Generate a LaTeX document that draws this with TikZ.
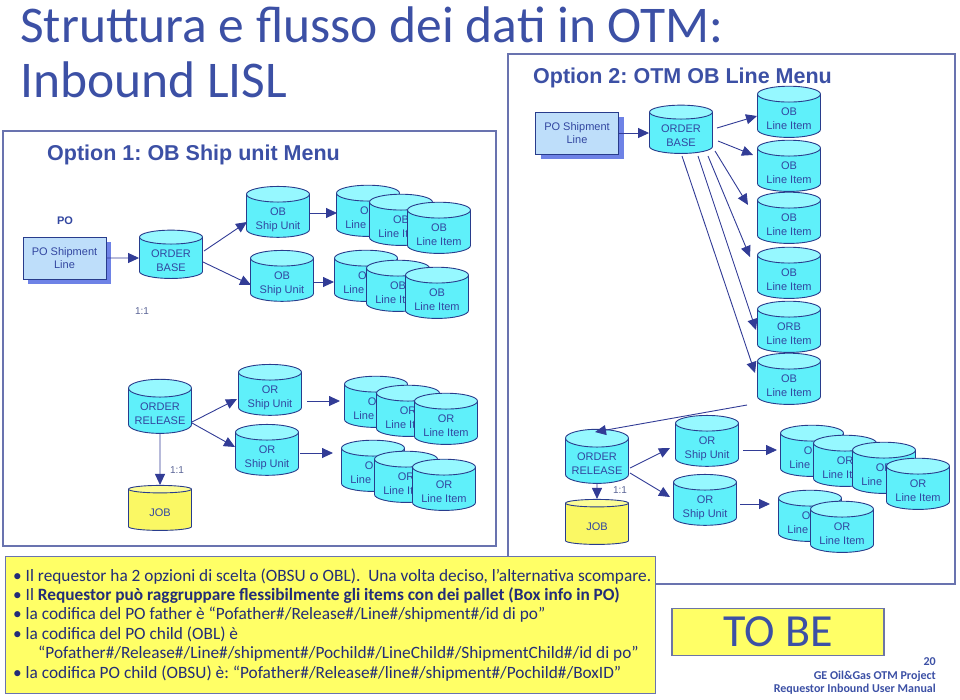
\documentclass[tikz,border=0pt]{standalone}
\usepackage{fontspec}
\setmainfont{Carlito}
\newfontfamily\arialfont{Liberation Sans}
\usetikzlibrary{calc,shapes.geometric,arrows.meta,shadows}

\definecolor{titleblue}{RGB}{60,80,165}
\definecolor{framecol}{RGB}{105,115,175}
\definecolor{dbline}{RGB}{40,60,140}
\definecolor{dbbody}{RGB}{95,240,250}
\definecolor{dbtop}{RGB}{150,248,255}
\definecolor{dbtext}{RGB}{50,70,160}
\definecolor{jobbody}{RGB}{250,248,100}
\definecolor{jobtop}{RGB}{252,252,150}
\definecolor{pofill}{RGB}{190,222,250}
\definecolor{poshadow}{RGB}{110,130,230}
\definecolor{arrowblue}{RGB}{50,60,150}
\definecolor{noteyellow}{RGB}{255,255,102}
\definecolor{notetext}{RGB}{35,45,120}
\definecolor{ratiogray}{RGB}{90,100,150}

% text of a cylinder, set a little below its centre
\newcommand{\cyltext}[2]{\raisebox{-4pt}[\height][\depth]{\begin{tabular}{@{}c@{}}#1\\#2\end{tabular}}}

\tikzset{
  db/.style={cylinder, shape border rotate=90, shape aspect=0.35, draw=dbline,
    line width=0.9pt, cylinder uses custom fill, cylinder body fill=dbbody,
    cylinder end fill=dbtop, minimum width=63pt, minimum height=45pt,
    inner sep=0pt, align=center, text=dbtext,
    font=\arialfont\fontsize{11}{13.5}\selectfont},
  jobdb/.style={db, cylinder body fill=jobbody, cylinder end fill=jobtop},
  pobox/.style={draw=dbline, fill=pofill, line width=0.9pt, minimum width=83pt,
    minimum height=42pt, inner sep=0pt, align=center, text=dbtext,
    font=\arialfont\fontsize{11}{13.5}\selectfont,
    drop shadow={shadow xshift=5pt, shadow yshift=-5pt, fill=poshadow, opacity=1}},
  ratio/.style={text=ratiogray, font=\arialfont\fontsize{10}{12}\selectfont},
  arr/.style={-{Triangle[length=11pt,width=10pt]}, draw=arrowblue, line width=0.9pt},
  frame/.style={draw=framecol, line width=1.1pt},
  optitle/.style={anchor=base west, text=titleblue,
    font=\arialfont\bfseries\fontsize{21.5}{24}\selectfont},
  noteline/.style={anchor=base west, text=notetext, inner sep=0pt,
    font=\fontsize{17.3}{19}\selectfont},
  footer/.style={anchor=base east, text=titleblue, inner sep=0pt,
    font=\bfseries\fontsize{12}{14}\selectfont}
}

\begin{document}
\frenchspacing
\begin{tikzpicture}[x=1pt,y=-1pt]
  \useasboundingbox (0,0) rectangle (960,699);

  % title
  \node[anchor=base west, text=titleblue, inner sep=0pt,
        font=\fontsize{51.5}{55}\selectfont] (title1) at (20,42) {Struttura e flusso dei dati in OTM:};
  \node[anchor=base west, text=titleblue, inner sep=0pt,
        font=\fontsize{51.5}{55}\selectfont] (title2) at (20,97) {Inbound LISL};

  % frames of the two options
  \draw[frame] (3,131) rectangle (496,546);
  \draw[frame] (508,54) rectangle (955,584);
  \node[optitle, inner sep=0pt] (opt1) at (47,160) {Option 1: OB Ship unit Menu};
  \node[optitle, inner sep=0pt] (opt2) at (533,83) {Option 2: OTM OB Line Menu};

  % option 1
  \node[text=dbtext, font=\arialfont\bfseries\fontsize{11}{13}\selectfont] (polab) at (65,221) {PO};
  \node[pobox] (po1) at (64.5,258) {PO Shipment\\Line};
  \node[db] (base1) at (171,258) {\cyltext{ORDER}{BASE}};
  \node[ratio] (r1) at (142,311) {1:1};
  \node[db] (su1a) at (278,216) {\cyltext{OB}{Ship Unit}};
  \node[db] (su1b) at (282,280) {\cyltext{OB}{Ship Unit}};
  \foreach \x/\y [count=\i] in {368/215,401/224,439/232}
    \node[db] (sa\i) at (\x,\y) {\cyltext{OB}{Line Item}};
  \foreach \x/\y [count=\i] in {366/280,398/290,437/297}
    \node[db] (sb\i) at (\x,\y) {\cyltext{OB}{Line Item}};

  \node[db] (rel1) at (160,411) {\cyltext{ORDER}{RELEASE}};
  \node[jobdb] (job1) at (160,510) {\raisebox{-3pt}[\height][\depth]{JOB}};
  \node[ratio] (r2) at (177,470) {1:1};
  \node[db] (or1a) at (270,394) {\cyltext{OR}{Ship Unit}};
  \node[db] (or1b) at (267,454) {\cyltext{OR}{Ship Unit}};
  \foreach \x/\y [count=\i] in {376/406,408/415,446/423}
    \node[db] (sc\i) at (\x,\y) {\cyltext{OR}{Line Item}};
  \foreach \x/\y [count=\i] in {373/470,406/481,444/489}
    \node[db] (sd\i) at (\x,\y) {\cyltext{OR}{Line Item}};

  \draw[arr] (po1) -- (base1);
  \draw[arr] ($(base1)+(33,-7)$) -- ($(su1a)+(-31,6)$);
  \draw[arr] ($(base1)+(32,4)$) -- ($(su1b)+(-31,5)$);
  \draw[arr] ($(su1a)+(32,-3)$) -- ($(sa1)+(-31,-2)$);
  \draw[arr] ($(su1b)+(32,2)$) -- ($(sb1)+(-32,2)$);
  \draw[arr] (rel1) -- (job1);
  \draw[arr] ($(rel1)+(32,11)$) -- ($(or1a)+(-33,5)$);
  \draw[arr] ($(rel1)+(32,12)$) -- ($(or1b)+(-32,-7)$);
  \draw[arr] ($(or1a)+(37,7)$) -- ($(sc1)+(-36,-5)$);
  \draw[arr] ($(or1b)+(33,-1)$) -- ($(sd1)+(-40,-17)$);

  % option 2
  \node[pobox] (po2) at (577,133) {PO Shipment\\Line};
  \node[db] (base2) at (681,133) {\cyltext{ORDER}{BASE}};
  \foreach \y/\t [count=\i] in {116/OB,170/OB,222/OB,277/OB,331/ORB,383/OB}
    \node[db] (li\i) at (789,\y) {\cyltext{\t}{Line Item}};

  \node[db] (rel2) at (597,461) {\cyltext{ORDER}{RELEASE}};
  \node[jobdb] (job2) at (597,524) {\raisebox{-3pt}[\height][\depth]{JOB}};
  \node[ratio] (r3) at (620,490) {1:1};
  \node[db] (or2a) at (707,445) {\cyltext{OR}{Ship Unit}};
  \node[db] (or2b) at (705,504) {\cyltext{OR}{Ship Unit}};
  \foreach \x/\y [count=\i] in {812/455,845/465,884/472,918/488}
    \node[db] (se\i) at (\x,\y) {\cyltext{OR}{Line Item}};
  \foreach \x/\y [count=\i] in {810/520,842/531}
    \node[db] (sf\i) at (\x,\y) {\cyltext{OR}{Line Item}};

  \draw[arr] (po2) -- (base2);
  \draw[arr] ($(base2)+(36,-5)$) -- ($(li1)+(-32,0)$);
  \draw[arr] ($(base2)+(37,8)$) -- ($(li2)+(-36,-15)$);
  \draw[arr] ($(base2)+(34,18)$) -- ($(li3)+(-41,-17)$);
  \draw[arr] ($(base2)+(27,23)$) -- ($(li4)+(-39,-20)$);
  \draw[arr] ($(base2)+(17,23)$) -- ($(li5)+(-33,-1)$);
  \draw[arr] ($(base2)+(1,23)$) -- ($(li6)+(-34,-10)$);
  \draw[arr] ($(li6)+(-42,22)$) -- ($(rel2)+(-2,-29)$);
  \draw[arr] (rel2) -- (job2);
  \draw[arr] ($(rel2)+(33,7)$) -- ($(or2a)+(-37,3)$);
  \draw[arr] ($(rel2)+(33,12)$) -- ($(or2b)+(-35,-7)$);
  \draw[arr] ($(or2a)+(36,5)$) -- ($(se1)+(-35,-5)$);
  \draw[arr] ($(or2b)+(35,0)$) -- ($(sf1)+(-40,-16)$);

  % notes
  \node[draw=framecol, fill=noteyellow, line width=1.1pt, anchor=north west,
        minimum width=650pt, minimum height=137pt, inner sep=0pt] (note) at (5,556) {};
  \node[noteline] (l1) at (13,581) {• Il requestor ha 2 opzioni di scelta (OBSU o OBL).\ \ Una volta deciso, l’alternativa scompare.};
  \node[noteline] (l2) at (13,600.4) {• Il \textbf{Requestor può raggruppare flessibilmente gli items con dei pallet (Box info in PO)}};
  \node[noteline] (l3) at (13,619.8) {• la codifica del PO father è “Pofather\#/Release\#/Line\#/shipment\#/id di po”};
  \node[noteline] (l4) at (13,639.2) {• la codifica del PO child (OBL) è};
  \node[noteline] (l5) at (38,658.6) {“Pofather\#/Release\#/Line\#/shipment\#/Pochild\#/LineChild\#/ShipmentChild\#/id di po”};
  \node[noteline] (l6) at (13,678) {• la codifica PO child (OBSU) è: “Pofather\#/Release\#/line\#/shipment\#/Pochild\#/BoxID”};

  \node[draw=framecol!80!gray, fill=noteyellow, line width=1.1pt, minimum width=212pt,
        minimum height=47pt, inner sep=0pt, text=titleblue,
        font=\fontsize{46}{50}\selectfont] (tobe) at (778,632) {TO BE};

  \node[footer] (f1) at (936,665) {20};
  \node[footer] (f2) at (936,679) {GE Oil\&Gas OTM Project};
  \node[footer] (f3) at (936,692) {Requestor Inbound User Manual};
\end{tikzpicture}
\end{document}
